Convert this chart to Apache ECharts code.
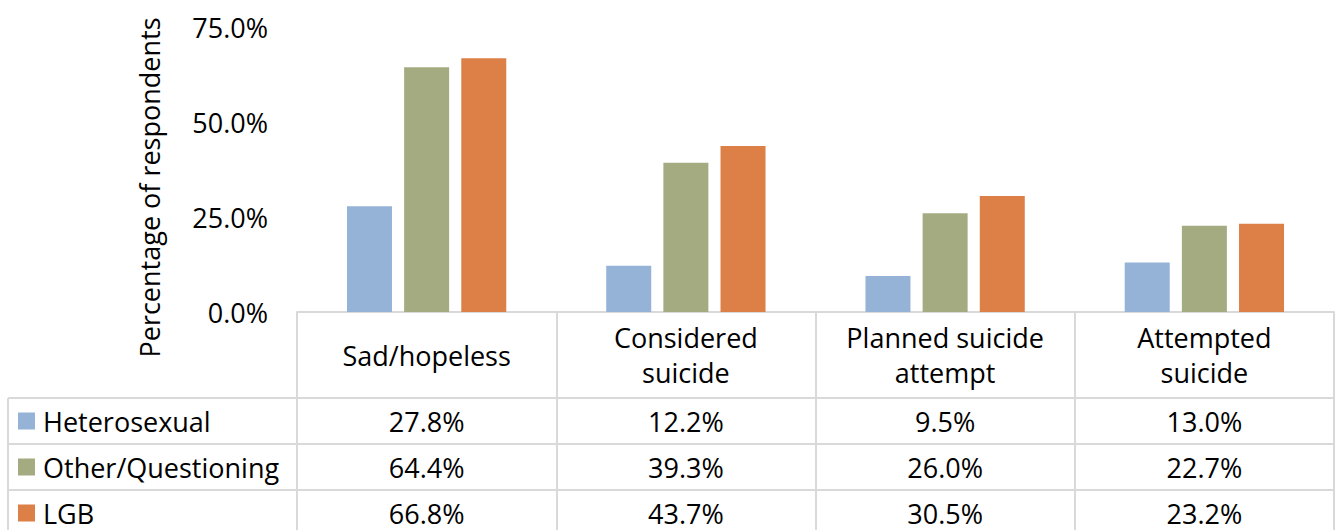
<!DOCTYPE html>
<html>
<head>
<meta charset="utf-8">
<script src="https://cdn.jsdelivr.net/npm/echarts@6/dist/echarts.min.js"></script>
<style>
html,body{margin:0;padding:0;background:#fff;}
#main{width:1336px;height:530px;}
</style>
</head>
<body>
<div id="main"></div>
<script>
const categories = ['Sad/hopeless', 'Considered\nsuicide', 'Planned suicide\nattempt', 'Attempted\nsuicide'];
const seriesNames = ['Heterosexual', 'Other/Questioning', 'LGB'];
const heterosexual = [27.8, 12.2, 9.5, 13.0];
const otherQuestioning = [64.4, 39.3, 26.0, 22.7];
const lgb = [66.8, 43.7, 30.5, 23.2];
const yTicks = [0, 25, 50, 75];
const colors = ['#95B3D7', '#A5AB81', '#DD8047'];

const FONT = 'Open Sans';
const FS = 27;
const LINE = '#d9d9d9';

const gridLeft = 297, gridRight = 2, gridTop = 27, gridBottom = 218;
const axisY = 530 - gridBottom;          // 312
const rowCenters = [109, 155, 201];       // offsets below axis for table rows
const rowLines = [86, 132, 178];          // horizontal table lines below axis

const rows = [heterosexual, otherQuestioning, lgb];

const chart = echarts.init(document.getElementById('main'), null, {renderer: 'svg'});

const xAxes = [{
  type: 'category',
  data: categories,
  position: 'bottom',
  axisLine: {show: true, lineStyle: {color: LINE, width: 2}},
  axisTick: {show: true, length: gridBottom, lineStyle: {color: LINE, width: 2}},
  axisLabel: {
    color: '#000', fontFamily: FONT, fontSize: FS, lineHeight: 35,
    margin: 43, verticalAlign: 'middle', interval: 0
  }
}];
rows.forEach((vals, r) => {
  xAxes.push({
    type: 'category',
    data: categories,
    position: 'bottom',
    offset: rowCenters[r],
    axisLine: {show: false},
    axisTick: {show: false},
    axisLabel: {
      color: '#000', fontFamily: FONT, fontSize: FS, margin: 0,
      verticalAlign: 'middle', interval: 0,
      formatter: (v, i) => vals[i].toFixed(1) + '%'
    }
  });
});

const graphics = [];
rowLines.forEach(dy => {
  graphics.push({
    type: 'line', silent: true,
    shape: {x1: 8, y1: axisY + dy, x2: 1336 - gridRight, y2: axisY + dy},
    style: {stroke: LINE, lineWidth: 2}
  });
});
graphics.push({
  type: 'line', silent: true,
  shape: {x1: 8, y1: axisY + rowLines[0], x2: 8, y2: 530},
  style: {stroke: LINE, lineWidth: 2}
});

chart.setOption({
  animation: false,
  backgroundColor: '#fff',
  textStyle: {fontFamily: FONT},
  grid: {left: gridLeft, right: gridRight, top: gridTop, bottom: gridBottom, containLabel: false},
  legend: {
    orient: 'vertical',
    left: 18,
    top: axisY + rowCenters[0] - 15,
    padding: 0,
    itemWidth: 17,
    itemHeight: 17,
    itemGap: 16,
    icon: 'rect',
    data: seriesNames,
    textStyle: {color: '#000', fontFamily: FONT, fontSize: FS, lineHeight: 30, padding: [0, 0, 0, 3]}
  },
  xAxis: xAxes,
  yAxis: {
    type: 'value',
    min: yTicks[0],
    max: yTicks[yTicks.length - 1],
    interval: 25,
    name: 'Percentage of respondents',
    nameLocation: 'middle',
    nameRotate: 90,
    nameGap: 134,
    nameTextStyle: {color: '#000', fontFamily: FONT, fontSize: FS, padding: [0, 36, 0, 0]},
    axisLine: {show: false},
    axisTick: {show: false},
    splitLine: {show: false},
    axisLabel: {
      color: '#000', fontFamily: FONT, fontSize: FS, margin: 29,
      formatter: v => v.toFixed(1) + '%'
    }
  },
  series: [heterosexual, otherQuestioning, lgb].map((d, i) => ({
    name: seriesNames[i],
    type: 'bar',
    xAxisIndex: 0,
    data: d,
    barWidth: 45,
    barGap: '27%',
    itemStyle: {color: colors[i]}
  })),
  graphic: graphics
});
</script>
</body>
</html>
